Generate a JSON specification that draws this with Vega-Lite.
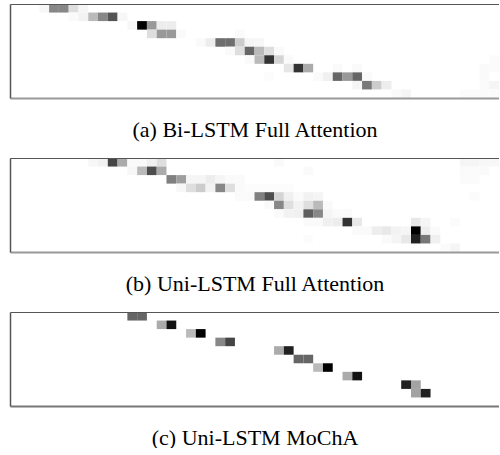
{
  "$schema": "https://vega.github.io/schema/vega-lite/v6.json",
  "background": "white",
  "padding": {"left": 10, "top": 4, "right": 0, "bottom": 0},
  "autosize": {"type": "pad"},
  "config": {"view": {"stroke": null}},
  "bounds": "flush",
  "spacing": 60,
  "datasets": {
    "p1": [
      {"r":0,"c":3,"v":0.03},{"r":0,"c":4,"v":0.47},{"r":0,"c":5,"v":0.47},{"r":0,"c":6,"v":0.13},{"r":0,"c":7,"v":0.04},
      {"r":1,"c":6,"v":0.02},{"r":1,"c":7,"v":0.05},{"r":1,"c":8,"v":0.27},{"r":1,"c":9,"v":0.47},{"r":1,"c":10,"v":0.67},{"r":1,"c":11,"v":0.03},
      {"r":2,"c":12,"v":0.03},{"r":2,"c":13,"v":1.0},{"r":2,"c":14,"v":0.4},{"r":2,"c":15,"v":0.07},{"r":2,"c":16,"v":0.07},
      {"r":3,"c":14,"v":0.13},{"r":3,"c":15,"v":0.4},{"r":3,"c":16,"v":0.4},{"r":3,"c":17,"v":0.02},{"r":3,"c":23,"v":0.02},
      {"r":4,"c":19,"v":0.02},{"r":4,"c":20,"v":0.07},{"r":4,"c":21,"v":0.57},{"r":4,"c":22,"v":0.57},{"r":4,"c":23,"v":0.2},{"r":4,"c":24,"v":0.04},{"r":4,"c":25,"v":0.03},
      {"r":5,"c":22,"v":0.02},{"r":5,"c":23,"v":0.13},{"r":5,"c":24,"v":0.6},{"r":5,"c":25,"v":0.27},{"r":5,"c":26,"v":0.13},{"r":5,"c":27,"v":0.02},
      {"r":6,"c":24,"v":0.02},{"r":6,"c":25,"v":0.27},{"r":6,"c":26,"v":0.8},{"r":6,"c":27,"v":0.17},{"r":6,"c":28,"v":0.02},{"r":6,"c":49,"v":0.015},
      {"r":7,"c":28,"v":0.1},{"r":7,"c":29,"v":0.8},{"r":7,"c":30,"v":0.33},{"r":7,"c":33,"v":0.02},{"r":7,"c":35,"v":0.02},{"r":7,"c":48,"v":0.02},{"r":7,"c":49,"v":0.015},
      {"r":8,"c":26,"v":0.01},{"r":8,"c":31,"v":0.02},{"r":8,"c":32,"v":0.06},{"r":8,"c":33,"v":0.6},{"r":8,"c":34,"v":0.4},{"r":8,"c":35,"v":0.6},{"r":8,"c":36,"v":0.02},{"r":8,"c":48,"v":0.02},
      {"r":9,"c":35,"v":0.04},{"r":9,"c":36,"v":0.53},{"r":9,"c":37,"v":0.2},{"r":9,"c":38,"v":0.07},{"r":9,"c":48,"v":0.015},{"r":9,"c":49,"v":0.04},
      {"r":10,"c":39,"v":0.02},{"r":10,"c":40,"v":0.04},{"r":10,"c":46,"v":0.015},{"r":10,"c":47,"v":0.015},{"r":10,"c":48,"v":0.015},{"r":10,"c":49,"v":0.015}
    ],
    "p2": [
      {"r":0,"c":8,"v":0.03},{"r":0,"c":9,"v":0.05},{"r":0,"c":10,"v":0.73},{"r":0,"c":11,"v":0.33},{"r":0,"c":12,"v":0.02},{"r":0,"c":13,"v":0.02},{"r":0,"c":14,"v":0.06},{"r":0,"c":15,"v":0.13},{"r":0,"c":27,"v":0.02},{"r":0,"c":46,"v":0.04},{"r":0,"c":47,"v":0.04},{"r":0,"c":48,"v":0.03},{"r":0,"c":49,"v":0.03},
      {"r":1,"c":12,"v":0.03},{"r":1,"c":13,"v":0.27},{"r":1,"c":14,"v":0.7},{"r":1,"c":15,"v":0.33},{"r":1,"c":30,"v":0.02},{"r":1,"c":46,"v":0.02},{"r":1,"c":47,"v":0.02},{"r":1,"c":48,"v":0.02},
      {"r":2,"c":16,"v":0.5},{"r":2,"c":17,"v":0.38},{"r":2,"c":18,"v":0.04},{"r":2,"c":19,"v":0.04},{"r":2,"c":20,"v":0.07},{"r":2,"c":21,"v":0.04},{"r":2,"c":22,"v":0.02},{"r":2,"c":23,"v":0.02},{"r":2,"c":46,"v":0.015},{"r":2,"c":47,"v":0.015},
      {"r":3,"c":17,"v":0.03},{"r":3,"c":18,"v":0.13},{"r":3,"c":19,"v":0.2},{"r":3,"c":20,"v":0.05},{"r":3,"c":21,"v":0.47},{"r":3,"c":22,"v":0.13},{"r":3,"c":23,"v":0.02},{"r":3,"c":24,"v":0.01},{"r":3,"c":25,"v":0.01},{"r":3,"c":26,"v":0.01},{"r":3,"c":27,"v":0.01},{"r":3,"c":28,"v":0.01},
      {"r":4,"c":23,"v":0.02},{"r":4,"c":24,"v":0.02},{"r":4,"c":25,"v":0.5},{"r":4,"c":26,"v":0.7},{"r":4,"c":27,"v":0.17},{"r":4,"c":28,"v":0.06},{"r":4,"c":29,"v":0.02},{"r":4,"c":30,"v":0.05},{"r":4,"c":31,"v":0.04},{"r":4,"c":47,"v":0.015},
      {"r":5,"c":26,"v":0.02},{"r":5,"c":27,"v":0.47},{"r":5,"c":28,"v":0.13},{"r":5,"c":29,"v":0.05},{"r":5,"c":30,"v":0.13},{"r":5,"c":31,"v":0.27},{"r":5,"c":32,"v":0.02},
      {"r":6,"c":27,"v":0.02},{"r":6,"c":28,"v":0.05},{"r":6,"c":29,"v":0.06},{"r":6,"c":30,"v":0.63},{"r":6,"c":31,"v":0.47},{"r":6,"c":32,"v":0.04},{"r":6,"c":33,"v":0.02},{"r":6,"c":34,"v":0.02},
      {"r":7,"c":30,"v":0.02},{"r":7,"c":31,"v":0.02},{"r":7,"c":32,"v":0.06},{"r":7,"c":33,"v":0.07},{"r":7,"c":34,"v":0.8},{"r":7,"c":35,"v":0.09},{"r":7,"c":41,"v":0.09},{"r":7,"c":42,"v":0.04},{"r":7,"c":45,"v":0.015},
      {"r":8,"c":35,"v":0.02},{"r":8,"c":36,"v":0.02},{"r":8,"c":37,"v":0.07},{"r":8,"c":38,"v":0.09},{"r":8,"c":39,"v":0.05},{"r":8,"c":40,"v":0.04},{"r":8,"c":41,"v":1.0},{"r":8,"c":42,"v":0.07},{"r":8,"c":43,"v":0.02},
      {"r":9,"c":30,"v":0.01},{"r":9,"c":38,"v":0.02},{"r":9,"c":39,"v":0.04},{"r":9,"c":40,"v":0.09},{"r":9,"c":41,"v":0.87},{"r":9,"c":42,"v":0.53},{"r":9,"c":43,"v":0.06},
      {"r":10,"c":44,"v":0.015},{"r":10,"c":45,"v":0.04}
    ],
    "p3": [
      {"r":0,"c":12,"v":0.6},{"r":0,"c":13,"v":0.6},
      {"r":1,"c":15,"v":0.33},{"r":1,"c":16,"v":0.93},
      {"r":2,"c":18,"v":0.27},{"r":2,"c":19,"v":1.0},
      {"r":3,"c":21,"v":0.47},{"r":3,"c":22,"v":0.73},
      {"r":4,"c":27,"v":0.33},{"r":4,"c":28,"v":0.87},
      {"r":5,"c":29,"v":0.6},{"r":5,"c":30,"v":0.6},
      {"r":6,"c":31,"v":0.27},{"r":6,"c":32,"v":1.0},
      {"r":7,"c":34,"v":0.33},{"r":7,"c":35,"v":0.93},
      {"r":8,"c":40,"v":0.87},{"r":8,"c":41,"v":0.36},
      {"r":9,"c":41,"v":0.36},{"r":9,"c":42,"v":0.87}
    ]
  },
  "vconcat": [
    {
      "width": 489, "height": 94,
      "data": {"name": "p1"},
      "layer": [
        {
          "mark": {"type": "rect"},
          "encoding": {
            "x": {"field": "c", "type": "ordinal",
              "scale": {"domain": [0,1,2,3,4,5,6,7,8,9,10,11,12,13,14,15,16,17,18,19,20,21,22,23,24,25,26,27,28,29,30,31,32,33,34,35,36,37,38,39,40,41,42,43,44,45,46,47,48,49], "paddingInner": 0, "paddingOuter": 0},
              "axis": {"orient": "bottom", "labels": false, "ticks": false, "domainColor": "#999999", "domainWidth": 2, "zindex": 1,
                "title": "(a) Bi-LSTM Full Attention", "titleFont": "Liberation Serif", "titleFontSize": 22, "titleFontWeight": "normal", "titleColor": "#000000", "titlePadding": 21}},
            "y": {"field": "r", "type": "ordinal",
              "scale": {"domain": [0,1,2,3,4,5,6,7,8,9,10], "paddingInner": 0, "paddingOuter": 0},
              "axis": {"labels": false, "ticks": false, "title": null, "domainColor": "#555555", "domainWidth": 1.5, "zindex": 1}},
            "color": {"field": "v", "type": "quantitative", "scale": {"domain": [0, 1], "range": ["#ffffff", "#000000"], "interpolate": "rgb"}, "legend": null}
          }
        },
        {
          "mark": {"type": "rect", "opacity": 0},
          "encoding": {
            "x": {"field": "c", "type": "ordinal",
              "scale": {"domain": [0,1,2,3,4,5,6,7,8,9,10,11,12,13,14,15,16,17,18,19,20,21,22,23,24,25,26,27,28,29,30,31,32,33,34,35,36,37,38,39,40,41,42,43,44,45,46,47,48,49], "paddingInner": 0, "paddingOuter": 0},
              "axis": {"orient": "top", "labels": false, "ticks": false, "title": null, "domainColor": "#555555", "domainWidth": 1.2, "zindex": 1}}
          }
        }
      ],
      "resolve": {"axis": {"x": "independent"}}
    },
    {
      "width": 489, "height": 94,
      "data": {"name": "p2"},
      "layer": [
        {
          "mark": {"type": "rect"},
          "encoding": {
            "x": {"field": "c", "type": "ordinal",
              "scale": {"domain": [0,1,2,3,4,5,6,7,8,9,10,11,12,13,14,15,16,17,18,19,20,21,22,23,24,25,26,27,28,29,30,31,32,33,34,35,36,37,38,39,40,41,42,43,44,45,46,47,48,49], "paddingInner": 0, "paddingOuter": 0},
              "axis": {"orient": "bottom", "labels": false, "ticks": false, "domainColor": "#999999", "domainWidth": 2, "zindex": 1,
                "title": "(b) Uni-LSTM Full Attention", "titleFont": "Liberation Serif", "titleFontSize": 22, "titleFontWeight": "normal", "titleColor": "#000000", "titlePadding": 21}},
            "y": {"field": "r", "type": "ordinal",
              "scale": {"domain": [0,1,2,3,4,5,6,7,8,9,10], "paddingInner": 0, "paddingOuter": 0},
              "axis": {"labels": false, "ticks": false, "title": null, "domainColor": "#555555", "domainWidth": 1.5, "zindex": 1}},
            "color": {"field": "v", "type": "quantitative", "scale": {"domain": [0, 1], "range": ["#ffffff", "#000000"], "interpolate": "rgb"}, "legend": null}
          }
        },
        {
          "mark": {"type": "rect", "opacity": 0},
          "encoding": {
            "x": {"field": "c", "type": "ordinal",
              "scale": {"domain": [0,1,2,3,4,5,6,7,8,9,10,11,12,13,14,15,16,17,18,19,20,21,22,23,24,25,26,27,28,29,30,31,32,33,34,35,36,37,38,39,40,41,42,43,44,45,46,47,48,49], "paddingInner": 0, "paddingOuter": 0},
              "axis": {"orient": "top", "labels": false, "ticks": false, "title": null, "domainColor": "#555555", "domainWidth": 1.2, "zindex": 1}}
          }
        }
      ],
      "resolve": {"axis": {"x": "independent"}}
    },
    {
      "width": 489, "height": 94,
      "data": {"name": "p3"},
      "layer": [
        {
          "mark": {"type": "rect"},
          "encoding": {
            "x": {"field": "c", "type": "ordinal",
              "scale": {"domain": [0,1,2,3,4,5,6,7,8,9,10,11,12,13,14,15,16,17,18,19,20,21,22,23,24,25,26,27,28,29,30,31,32,33,34,35,36,37,38,39,40,41,42,43,44,45,46,47,48,49], "paddingInner": 0, "paddingOuter": 0},
              "axis": {"orient": "bottom", "labels": false, "ticks": false, "domainColor": "#777777", "domainWidth": 2, "zindex": 1,
                "title": "(c) Uni-LSTM MoChA", "titleFont": "Liberation Serif", "titleFontSize": 22, "titleFontWeight": "normal", "titleColor": "#000000", "titlePadding": 21}},
            "y": {"field": "r", "type": "ordinal",
              "scale": {"domain": [0,1,2,3,4,5,6,7,8,9,10], "paddingInner": 0, "paddingOuter": 0},
              "axis": {"labels": false, "ticks": false, "title": null, "domainColor": "#555555", "domainWidth": 1.5, "zindex": 1}},
            "color": {"field": "v", "type": "quantitative", "scale": {"domain": [0, 1], "range": ["#ffffff", "#000000"], "interpolate": "rgb"}, "legend": null}
          }
        },
        {
          "mark": {"type": "rect", "opacity": 0},
          "encoding": {
            "x": {"field": "c", "type": "ordinal",
              "scale": {"domain": [0,1,2,3,4,5,6,7,8,9,10,11,12,13,14,15,16,17,18,19,20,21,22,23,24,25,26,27,28,29,30,31,32,33,34,35,36,37,38,39,40,41,42,43,44,45,46,47,48,49], "paddingInner": 0, "paddingOuter": 0},
              "axis": {"orient": "top", "labels": false, "ticks": false, "title": null, "domainColor": "#555555", "domainWidth": 1.2, "zindex": 1}}
          }
        }
      ],
      "resolve": {"axis": {"x": "independent"}}
    }
  ]
}
